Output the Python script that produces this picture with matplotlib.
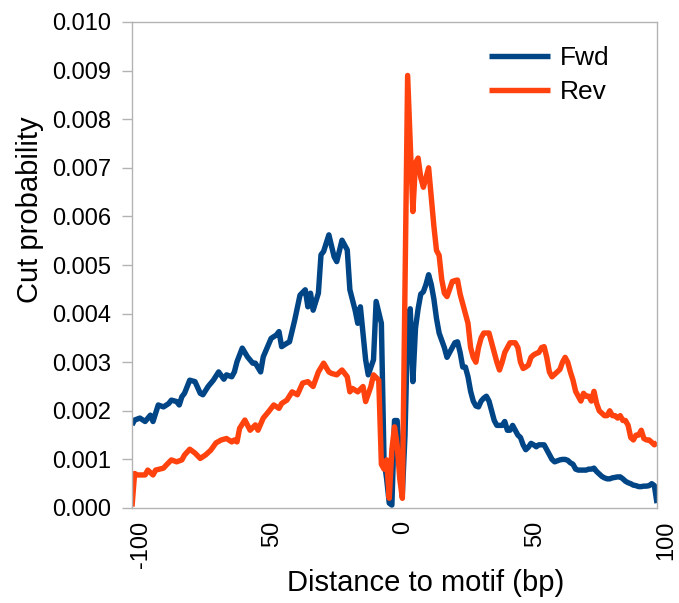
import matplotlib
matplotlib.use("Agg")
import matplotlib.pyplot as plt
import matplotlib.transforms as mtransforms

plt.rcParams['font.family'] = ['Liberation Sans', 'DejaVu Sans']

# ---- data ----
fwd_x = [-100, -99, -97, -95, -93, -92, -90, -88, -86, -85, -83, -82, -81, -80, -78, -76, -74, -73,
         -71, -69, -67, -65, -64, -62, -61, -60, -58, -56, -54, -53, -51, -50, -47, -45, -44, -43,
         -41, -40, -38, -36, -34, -33, -32, -31, -29, -28, -27, -25, -23, -22, -20, -18, -17, -15,
         -14, -13, -11, -10, -8, -7, -5, -4, -3, -2, -1, 0, 1, 2, 3, 4, 5, 6, 7, 8, 9, 10, 11, 12,
         13, 14, 15, 16, 17, 18, 19, 20, 21, 22, 23, 24, 25, 26, 27, 28, 29, 30, 31, 32, 33, 34, 35,
         36, 37, 38, 39, 40, 41, 42, 43, 44, 45, 46, 47, 48, 49, 50, 51, 52, 53, 54, 55, 56, 57, 58,
         59, 60, 61, 62, 63, 64, 65, 66, 67, 68, 69, 70, 71, 72, 73, 74, 75, 76, 77, 78, 79, 80, 81,
         82, 83, 84, 85, 86, 87, 88, 89, 90, 91, 92, 93, 94, 95, 96, 97, 98, 99, 100]
fwd_y = [0.00171, 0.00181, 0.00185, 0.00178, 0.00191, 0.00178, 0.00212, 0.00208, 0.00215, 0.00222,
         0.00219, 0.00212, 0.00229, 0.00236, 0.00263, 0.00260, 0.00236, 0.00233, 0.00250, 0.00263,
         0.00280, 0.00265, 0.00274, 0.00270, 0.00280, 0.00301, 0.00329, 0.00311, 0.00298, 0.00298,
         0.00280, 0.00311, 0.00349, 0.00356, 0.00363, 0.00332, 0.00339, 0.00342, 0.00387, 0.00438,
         0.00449, 0.00414, 0.00442, 0.00407, 0.00442, 0.00521, 0.00528, 0.00562, 0.00517, 0.00507,
         0.00551, 0.00531, 0.00449, 0.00407, 0.00380, 0.00414, 0.00305, 0.00274, 0.00305, 0.00425,
         0.00380, 0.00100, 0.00060, 0.00010, 0.00006, 0.00180, 0.00180, 0.00100, 0.00030, 0.00150,
         0.00370, 0.00410, 0.00260, 0.00370, 0.00410, 0.00440, 0.00445, 0.00460, 0.00480, 0.00460,
         0.00430, 0.00390, 0.00360, 0.00345, 0.00330, 0.00310, 0.00320, 0.00330, 0.00340, 0.00342,
         0.00320, 0.00290, 0.00290, 0.00270, 0.00240, 0.00220, 0.00210, 0.00208, 0.00220, 0.00226,
         0.00230, 0.00220, 0.00200, 0.00180, 0.00170, 0.00170, 0.00170, 0.00178, 0.00160, 0.00160,
         0.00170, 0.00160, 0.00150, 0.00145, 0.00130, 0.00120, 0.00125, 0.00133, 0.00130, 0.00126,
         0.00130, 0.00130, 0.00130, 0.00120, 0.00110, 0.00100, 0.00095, 0.00097, 0.00099, 0.00100,
         0.00100, 0.00098, 0.00093, 0.00090, 0.00080, 0.00078, 0.00078, 0.00078, 0.00078, 0.00080,
         0.00080, 0.00082, 0.00075, 0.00070, 0.00065, 0.00062, 0.00060, 0.00060, 0.00062, 0.00063,
         0.00064, 0.00064, 0.00060, 0.00055, 0.00052, 0.00050, 0.00047, 0.00046, 0.00044, 0.00044,
         0.00045, 0.00045, 0.00046, 0.00050, 0.00046, 0.00010]

rev_x = [-100, -99, -98, -95, -94, -92, -91, -88, -87, -85, -83, -81, -80, -78, -76, -74, -72, -70,
         -68, -66, -64, -62, -61, -60, -59, -57, -55, -53, -52, -50, -48, -46, -44, -43, -41, -39,
         -37, -35, -33, -31, -29, -27, -25, -24, -22, -20, -18, -17, -16, -14, -12, -11, -9, -8, -6,
         -5, -4, -3, -2, -1, 0, 1, 2, 3, 4, 5, 6, 7, 8, 9, 10, 11, 12, 13, 14, 15, 16, 17, 18, 19,
         20, 21, 22, 23, 24, 25, 26, 27, 28, 29, 30, 31, 32, 33, 34, 35, 36, 37, 38, 39, 40, 41, 42,
         43, 44, 45, 46, 47, 48, 49, 50, 51, 52, 53, 54, 55, 56, 57, 58, 59, 60, 61, 62, 63, 64, 65,
         66, 67, 68, 69, 70, 71, 72, 73, 74, 75, 76, 77, 78, 79, 80, 81, 82, 83, 84, 85, 86, 87, 88,
         89, 90, 91, 92, 93, 94, 95, 96, 97, 98, 99, 100]
rev_y = [0.00003, 0.00071, 0.00068, 0.00068, 0.00078, 0.00068, 0.00078, 0.00082, 0.00088, 0.00099,
         0.00095, 0.00099, 0.00109, 0.00121, 0.00113, 0.00102, 0.00109, 0.00119, 0.00134, 0.00140,
         0.00143, 0.00136, 0.00140, 0.00136, 0.00164, 0.00181, 0.00160, 0.00171, 0.00160, 0.00185,
         0.00198, 0.00212, 0.00205, 0.00215, 0.00222, 0.00239, 0.00233, 0.00257, 0.00260, 0.00250,
         0.00280, 0.00298, 0.00280, 0.00277, 0.00274, 0.00284, 0.00270, 0.00239, 0.00246, 0.00239,
         0.00250, 0.00219, 0.00250, 0.00274, 0.00263, 0.00090, 0.00080, 0.00099, 0.00020, 0.00120,
         0.00167, 0.00130, 0.00060, 0.00020, 0.00450, 0.00890, 0.00750, 0.00610, 0.00710, 0.00720,
         0.00680, 0.00660, 0.00680, 0.00700, 0.00640, 0.00580, 0.00530, 0.00520, 0.00470, 0.00442,
         0.00435, 0.00450, 0.00466, 0.00468, 0.00469, 0.00440, 0.00420, 0.00400, 0.00380, 0.00330,
         0.00310, 0.00300, 0.00330, 0.00350, 0.00360, 0.00360, 0.00360, 0.00340, 0.00320, 0.00300,
         0.00284, 0.00300, 0.00320, 0.00330, 0.00340, 0.00340, 0.00340, 0.00330, 0.00300, 0.00287,
         0.00290, 0.00294, 0.00310, 0.00315, 0.00318, 0.00320, 0.00330, 0.00332, 0.00310, 0.00280,
         0.00270, 0.00275, 0.00280, 0.00285, 0.00300, 0.00310, 0.00300, 0.00280, 0.00263, 0.00240,
         0.00230, 0.00220, 0.00236, 0.00230, 0.00230, 0.00220, 0.00240, 0.00215, 0.00200, 0.00195,
         0.00190, 0.00190, 0.00200, 0.00190, 0.00190, 0.00185, 0.00190, 0.00180, 0.00180, 0.00170,
         0.00145, 0.00140, 0.00150, 0.00150, 0.00160, 0.00143, 0.00140, 0.00140, 0.00135, 0.00130,
         0.00135]

series_names = ["Fwd", "Rev"]
xtick_pos = [-100, -50, 0, 50, 100]
xtick_labels = ["-100", "50", "0", "50", "100"]
ytick_pos = [i / 1000 for i in range(0, 11)]
ytick_labels = ["%.3f" % v for v in ytick_pos]

# ---- figure ----
W, H = 679, 603
fig = plt.figure(figsize=(W / 100, H / 100), dpi=100)
ax = fig.add_axes([132 / W, 1 - 508 / H, (657 - 132) / W, (508 - 22) / H])

blue = "#004586"
orange = "#ff420e"
ax.plot(fwd_x, fwd_y, color=blue, lw=3.9, solid_joinstyle="round", solid_capstyle="butt", label=series_names[0])
ax.plot(rev_x, rev_y, color=orange, lw=3.9, solid_joinstyle="round", solid_capstyle="butt", label=series_names[1])

ax.set_xlim(-100, 100)
ax.set_ylim(0, 0.010)

grey = "#b3b3b3"
for s in ax.spines.values():
    s.set_color(grey)
    s.set_linewidth(1.0)

ax.set_yticks(ytick_pos)
ax.set_yticklabels(ytick_labels, fontsize=17)
ax.tick_params(axis="y", direction="out", length=7, width=1, color=grey, pad=8)

ax.set_xticks(xtick_pos)
ax.set_xticklabels(xtick_labels, fontsize=17, rotation=90)
ax.tick_params(axis="x", length=0, pad=9)
offset = mtransforms.ScaledTranslation(9 / 100, 0, fig.dpi_scale_trans)
for lab in ax.get_xticklabels():
    lab.set_transform(lab.get_transform() + offset)

fig.text(30 / W, 1 - 210 / H, "Cut probability", rotation=90, ha="center", va="center", fontsize=21)
fig.text(426 / W, 1 - 583 / H, "Distance to motif (bp)", ha="center", va="center", fontsize=21)

leg = ax.legend(loc="upper left", bbox_to_anchor=(489 / W, 1 - 46 / H), bbox_transform=fig.transFigure,
                frameon=False, fontsize=19, handlelength=2.3, handletextpad=0.38,
                labelspacing=0.38, borderpad=0, borderaxespad=0)

fig.savefig("out.png", dpi=100)
